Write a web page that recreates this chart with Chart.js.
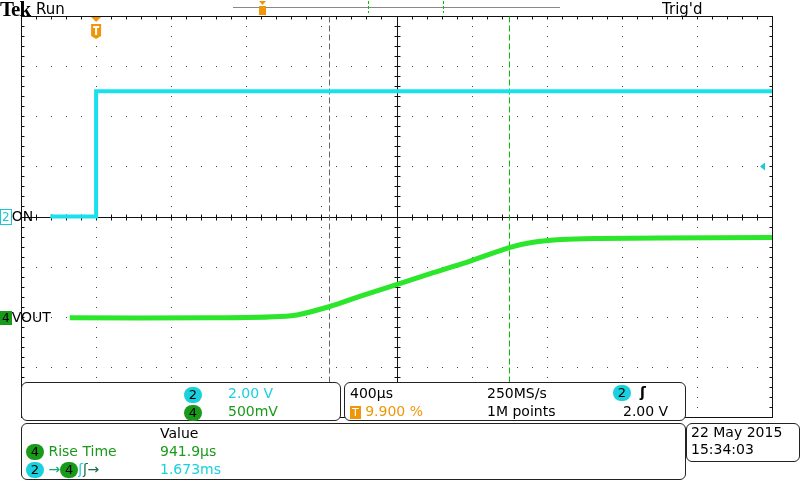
<!DOCTYPE html>
<html><head><meta charset="utf-8">
<script src="https://cdn.jsdelivr.net/npm/chart.js@4/dist/chart.umd.min.js"></script>
<style>
body{margin:0;background:#fff;font-family:"DejaVu Sans",sans-serif;}
#wrap{position:relative;width:800px;height:480px;}
canvas{position:absolute;left:0;top:0;}
.c{display:inline-block;width:18px;height:16px;border-radius:8px;text-align:center;font-size:13px;line-height:16px;color:#000;}
</style></head><body>
<div id="wrap"><canvas id="ch" width="800" height="480"></canvas></div>
<script>
// data in graticule divisions (x: 0..10, y: -4..4)
const ch2X = [0.39, 1.0, 1.0, 10.0];
const ch2Y = [0.0, 0.0, 2.5, 2.5];
const ch4X = [0.65, 2.5, 3.6, 4.1, 4.5, 5.0, 5.45, 6.0, 6.5, 6.8, 7.2, 7.7, 8.5, 10.0];
const ch4Y = [-2.02, -2.02, -1.98, -1.80, -1.60, -1.36, -1.14, -0.88, -0.62, -0.52, -0.46, -0.44, -0.43, -0.42];
const cursorX = [4.1, 6.5];
const trigX = 1.0;

const toPts=(xs,ys)=>xs.map((x,i)=>({x,y:ys[i]}));
const grat={id:'grat',beforeDatasetsDraw(c){
 const g=c.ctx,xs=c.scales.x,ys=c.scales.y;g.save();
 const X=v=>Math.round(xs.getPixelForValue(v))+0.5,Y=v=>Math.round(ys.getPixelForValue(v))+0.5;
 g.fillStyle='#444';
 for(let i=1;i<10;i++){if(i==5)continue;for(let j=0;j<=40;j++)g.fillRect(X(i)-0.5,Y(-4+j*0.2)-0.5,1,1);}
 for(let j=1;j<8;j++){if(j==4)continue;for(let i=0;i<=50;i++)g.fillRect(X(i*0.2)-0.5,Y(-4+j)-0.5,1,1);}
 g.strokeStyle='#111';g.lineWidth=1;
 g.beginPath();g.moveTo(X(0),Y(0));g.lineTo(X(10),Y(0));g.moveTo(X(5),Y(4));g.lineTo(X(5),Y(-4));g.stroke();
 g.beginPath();
 for(let i=0;i<=50;i++){g.moveTo(X(i*0.2),Y(0)-3);g.lineTo(X(i*0.2),Y(0)+3);g.moveTo(X(i*0.2),Y(4));g.lineTo(X(i*0.2),Y(4)+3);}
 for(let j=0;j<=40;j++){g.moveTo(X(5)-3,Y(-4+j*0.2));g.lineTo(X(5)+3,Y(-4+j*0.2));g.moveTo(X(0),Y(-4+j*0.2));g.lineTo(X(0)+3,Y(-4+j*0.2));g.moveTo(X(10),Y(-4+j*0.2));g.lineTo(X(10)-3,Y(-4+j*0.2));}
 g.stroke();
 g.strokeRect(X(0),Y(4),X(10)-X(0),Y(-4)-Y(4));
 g.setLineDash([6,3]);
 g.strokeStyle='#666';g.beginPath();g.moveTo(X(cursorX[0]),Y(4));g.lineTo(X(cursorX[0]),Y(-4));g.stroke();
 g.strokeStyle='#00c000';g.beginPath();g.moveTo(X(cursorX[1]),Y(4));g.lineTo(X(cursorX[1]),Y(-4));g.stroke();
 g.restore();
},afterDraw(c){
 const g=c.ctx,xs=c.scales.x,ys=c.scales.y;g.save();
 const tx=xs.getPixelForValue(trigX);
 g.fillStyle='#f0960a';g.beginPath();g.moveTo(tx-5,17);g.lineTo(tx+5,17);g.lineTo(tx,22);g.fill();
 g.fillRect(tx-5,24,10,12);g.beginPath();g.moveTo(tx-5,36);g.lineTo(tx+5,36);g.lineTo(tx,39);g.fill();
 g.fillStyle='#fff';g.fillRect(tx-3,26,6,2);g.fillRect(tx-1,26,2,9);
 g.fillStyle='#19c8d8';const ry=ys.getPixelForValue(1.0);g.beginPath();g.moveTo(760,ry);g.lineTo(765,ry-4);g.lineTo(765,ry+4);g.fill();
 g.strokeStyle='#888';g.lineWidth=1;g.beginPath();g.moveTo(233,7.5);g.lineTo(560,7.5);g.stroke();
 g.strokeStyle='#00c000';g.setLineDash([3,2]);g.beginPath();g.moveTo(368.5,1);g.lineTo(368.5,13);g.moveTo(443.5,1);g.lineTo(443.5,13);g.stroke();
 g.setLineDash([]);g.fillStyle='#f0960a';g.fillRect(259,6,7,9);g.beginPath();g.moveTo(259,1);g.lineTo(266,1);g.lineTo(262.5,5);g.fill();
 g.restore();
}};
new Chart(document.getElementById('ch'),{type:'scatter',
 data:{datasets:[
  {data:toPts(ch2X,ch2Y),showLine:true,borderColor:'#19e0ee',borderWidth:4,pointRadius:0,borderJoinStyle:'miter'},
  {data:toPts(ch4X,ch4Y),showLine:true,borderColor:'#2be62b',borderWidth:5,pointRadius:0,tension:0.3}]},
 options:{responsive:false,animation:false,devicePixelRatio:1,
  layout:{padding:{left:21,right:28,top:16,bottom:63}},
  plugins:{legend:{display:false},tooltip:{enabled:false}},
  scales:{x:{type:'linear',min:0,max:10,display:false},y:{min:-4,max:4,display:false}}},
 plugins:[grat]});
const W=document.getElementById('wrap');
function add(html,css){const d=document.createElement('div');d.innerHTML=html;d.style.cssText=css;W.appendChild(d);return d;}
add('Tek','position:absolute;left:0;top:-3px;font:bold 21px "Liberation Serif",serif;letter-spacing:-1px;');
add('Run','position:absolute;left:36px;top:0;font-size:15px;');
add("Trig'd",'position:absolute;left:662px;top:0;font-size:15px;');
add('<span style="border:1px solid #19c8d8;color:#19c8d8;font-size:12px;padding:0 1px">2</span>ON','position:absolute;left:0;top:208px;font-size:14px;');
add('<span style="background:#1a9a1a;color:#000;font-size:12px;padding:0 2px">4</span>VOUT','position:absolute;left:0;top:309px;font-size:14px;');
add('','position:absolute;left:21px;top:382px;width:318px;height:37px;border:1px solid #222;border-radius:6px;background:#fff');
add('','position:absolute;left:344px;top:382px;width:340px;height:37px;border:1px solid #222;border-radius:6px;background:#fff');
add('','position:absolute;left:21px;top:423px;width:663px;height:55px;border:1px solid #222;border-radius:6px;background:#fff');
add('','position:absolute;left:686px;top:423px;width:112px;height:37px;border:1px solid #222;border-radius:6px;background:#fff');
const cy='#19d0dd',gr='#1a9a1a';
const b2='<span class="c" style="background:'+cy+'">2</span>',b4='<span class="c" style="background:'+gr+'">4</span>';
add(b2,'position:absolute;left:184px;top:384px;');
add('2.00 V','position:absolute;left:228px;top:385px;font-size:14px;color:'+cy);
add(b4,'position:absolute;left:184px;top:402px;');
add('500mV','position:absolute;left:228px;top:403px;font-size:14px;color:'+gr);
add('400µs','position:absolute;left:350px;top:385px;font-size:14px;');
add('250MS/s','position:absolute;left:487px;top:385px;font-size:14px;');
add(b2+' &nbsp;<b>ʃ</b>','position:absolute;left:613px;top:384px;font-size:14px;');
add('<span style="background:#f0960a;color:#fff;font-size:11px;padding:0 2px">T</span> 9.900 %','position:absolute;left:350px;top:403px;font-size:14px;color:#f0960a');
add('1M points','position:absolute;left:487px;top:403px;font-size:14px;');
add('2.00 V','position:absolute;left:623px;top:403px;font-size:14px;');
add('Value','position:absolute;left:160px;top:425px;font-size:14px;');
add(b4+' Rise Time','position:absolute;left:26px;top:443px;font-size:14px;color:'+gr);
add('941.9µs','position:absolute;left:160px;top:443px;font-size:14px;color:'+gr);
add(b2+' <span style="color:#1a7">→</span>'+b4+'<span style="color:'+cy+'">ʃ</span><span style="color:#1a6a4a">ʃ→</span>','position:absolute;left:26px;top:461px;font-size:14px;');
add('1.673ms','position:absolute;left:160px;top:461px;font-size:14px;color:'+cy);
add('22 May 2015','position:absolute;left:691px;top:424px;font-size:14px;');
add('15:34:03','position:absolute;left:691px;top:441px;font-size:14px;');
</script></body></html>
